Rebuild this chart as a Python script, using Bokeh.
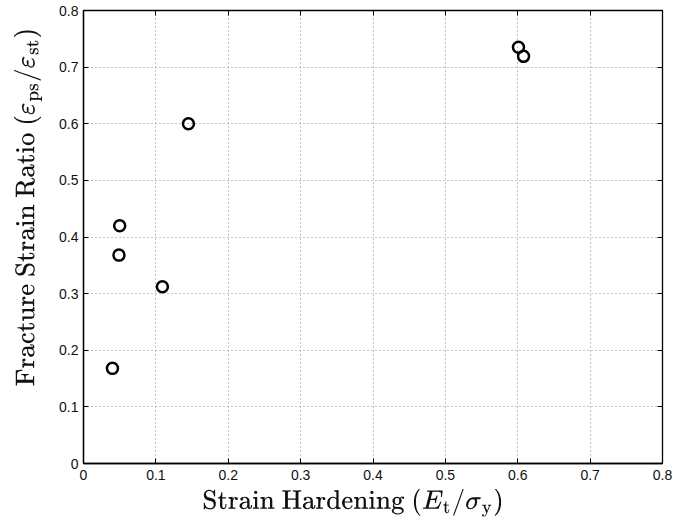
from bokeh.plotting import figure
from bokeh.models import LinearAxis, FixedTicker, Range1d
from bokeh.embed import file_html
from bokeh.resources import INLINE

# Measured specimens: strain hardening vs. fracture strain ratio
hardening = [0.040, 0.049, 0.050, 0.109, 0.145, 0.601, 0.608]
strain_ratio = [0.168, 0.368, 0.420, 0.312, 0.600, 0.735, 0.719]

x_ticks = [0, 0.1, 0.2, 0.3, 0.4, 0.5, 0.6, 0.7, 0.8]
y_ticks = [0, 0.1, 0.2, 0.3, 0.4, 0.5, 0.6, 0.7, 0.8]

# TeX titles; the \hspace padding sets where each title sits along its axis
x_title = r"$$\text{Strain Hardening }(E_{\rm t}/\sigma_{\rm y})\hspace{40px}$$"
y_title = r"$$\hspace{60px}\text{Fracture Strain Ratio }(\varepsilon_{\rm ps}/\varepsilon_{\rm st})$$"

p = figure(width=673, height=521, output_backend="svg", toolbar_location=None,
           x_range=Range1d(0, 0.8), y_range=Range1d(0, 0.8),
           min_border_left=83, min_border_right=11, min_border_top=10,
           min_border_bottom=58, x_axis_label=x_title, y_axis_label=y_title)

p.background_fill_color = "white"
p.border_fill_color = "white"
p.outline_line_color = "black"
p.outline_line_width = 1.3

for ax in (p.xaxis[0], p.yaxis[0]):
    ax.major_tick_in = 5
    ax.major_tick_out = 0
    ax.minor_tick_line_color = None
    ax.axis_line_color = "black"
    ax.axis_line_width = 1.3
    ax.major_tick_line_color = "black"
    ax.major_label_text_font = "Liberation Sans"
    ax.major_label_text_font_size = "14px"
    ax.major_label_text_color = "#111111"
    ax.axis_label_text_font_size = "21.5px"
    ax.axis_label_text_color = "#111111"

p.xaxis[0].ticker = FixedTicker(ticks=x_ticks)
p.yaxis[0].ticker = FixedTicker(ticks=y_ticks)
p.xaxis[0].major_label_standoff = 6
p.yaxis[0].major_label_standoff = 5
p.xaxis[0].axis_label_standoff = 6
p.yaxis[0].axis_label_standoff = 14

# Mirror ticks on the top and right edges
for side in ("above", "right"):
    a = LinearAxis(ticker=FixedTicker(ticks=x_ticks if side == "above" else y_ticks))
    a.major_tick_in = 5
    a.major_tick_out = 0
    a.minor_tick_line_color = None
    a.major_label_text_font_size = "0px"
    a.major_label_text_color = None
    a.axis_line_color = "black"
    a.major_tick_line_color = "black"
    p.add_layout(a, side)

p.grid.grid_line_color = "#888888"
p.grid.grid_line_dash = "1 3"
p.grid.grid_line_width = 1
p.xgrid.ticker = FixedTicker(ticks=x_ticks)
p.ygrid.ticker = FixedTicker(ticks=y_ticks)

p.scatter(hardening, strain_ratio, marker="circle", size=11,
          fill_color=None, line_color="black", line_width=2.5)

open("out.html", "w").write(file_html(p, INLINE))
